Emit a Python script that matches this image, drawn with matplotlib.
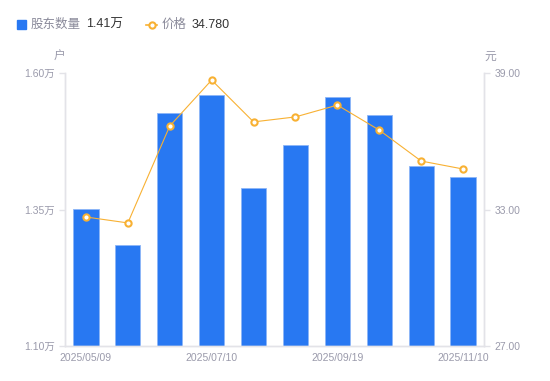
import matplotlib.pyplot as plt
import numpy as np

plt.rcParams['font.family'] = ['Liberation Sans', 'Noto Sans CJK SC']

# data
dates = ['2025/05/09', '2025/05/30', '2025/06/20', '2025/07/10', '2025/07/31',
         '2025/08/20', '2025/09/19', '2025/09/30', '2025/10/20', '2025/11/10']
holders = [1.351, 1.285, 1.527, 1.560, 1.389, 1.468, 1.556, 1.523, 1.430, 1.410]  # 万户
price = [32.67, 32.41, 36.67, 38.69, 36.85, 37.07, 37.59, 36.49, 35.13, 34.78]   # 元

left_ticks = [1.10, 1.35, 1.60]
right_ticks = [27.0, 33.0, 39.0]
shown_dates = [0, 3, 6, 9]

BLUE = '#2878F2'
ORANGE = '#F8B133'
GRID = '#E3E3E8'
LABEL = '#9A9AAB'

fig = plt.figure(figsize=(5.5, 3.81), dpi=100)
ax = fig.add_axes([65 / 550, 35 / 381, 419 / 550, 273 / 381])
ax2 = ax.twinx()

x = np.arange(len(dates))
ax.bar(x, [h - 1.10 for h in holders], bottom=1.10, width=0.6, color=BLUE,
       edgecolor='#8DB6F7', linewidth=0.6, zorder=2)
ax.set_xlim(-0.5, len(dates) - 0.5)
ax.set_ylim(1.10, 1.60)
ax.set_yticks(left_ticks)
ax.set_yticklabels([f'{t:.2f}万' for t in left_ticks])
ax.set_xticks(x[shown_dates])
ax.set_xticklabels([dates[i] for i in shown_dates])

ax2.plot(x, price, color=ORANGE, linewidth=0.8, marker='o', markersize=4.5,
         markerfacecolor='white', markeredgecolor=ORANGE, markeredgewidth=1.5, zorder=3)
ax2.set_ylim(27, 39)
ax2.set_yticks(right_ticks)
ax2.set_yticklabels([f'{t:.2f}' for t in right_ticks])

for a in (ax, ax2):
    for s in a.spines.values():
        s.set_color(GRID)
        s.set_linewidth(1)
    a.spines['top'].set_visible(False)
    a.tick_params(colors=GRID, labelcolor=LABEL, labelsize=7.5, length=4, width=1)
ax.tick_params(axis='x', length=0, pad=5)

fig.text(59 / 550, 1 - 57 / 381, '户', color=LABEL, fontsize=8.5, ha='center', va='center')
fig.text(490 / 550, 1 - 57 / 381, '元', color=LABEL, fontsize=8.5, ha='center', va='center')

# legend row
ly = 1 - 24.5 / 381
fig.patches.append(plt.Rectangle((17 / 550, 1 - 29 / 381), 9 / 550, 9 / 381,
                                 transform=fig.transFigure, color=BLUE))
fig.text(31 / 550, ly, '股东数量', color='#8A8A9A', fontsize=9, va='center')
fig.text(86 / 550, ly, '1.41万', color='#333333', fontsize=9, va='center')
fig.lines.append(plt.Line2D([146 / 550, 157 / 550], [ly, ly],
                            transform=fig.transFigure, color=ORANGE, linewidth=1.2))
fig.lines.append(plt.Line2D([151.5 / 550], [ly], transform=fig.transFigure,
                            marker='o', markersize=4.5, markerfacecolor='white',
                            markeredgecolor=ORANGE, markeredgewidth=1.5, linestyle='none'))
fig.text(162 / 550, ly, '价格', color='#8A8A9A', fontsize=9, va='center')
fig.text(192 / 550, ly, '34.780', color='#333333', fontsize=9, va='center')

fig.savefig('out.png', dpi=100)
